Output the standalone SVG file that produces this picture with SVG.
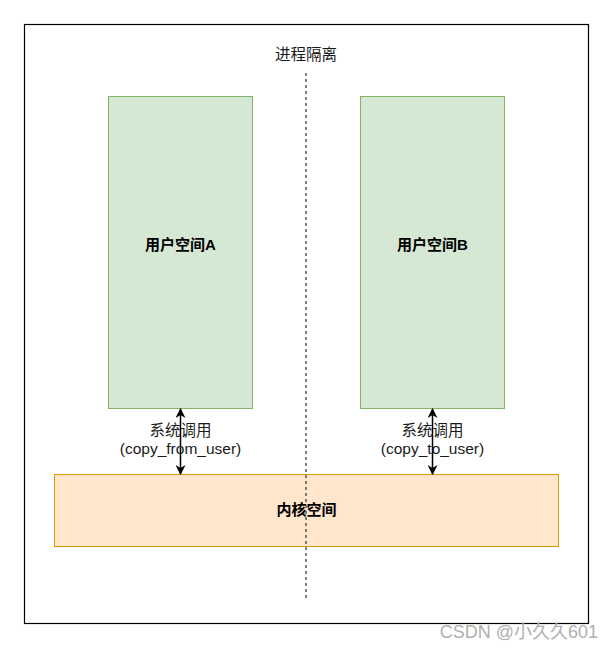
<svg xmlns="http://www.w3.org/2000/svg" width="614" height="650" viewBox="0 0 614 650">
<style>
.user{fill:#d5e8d4;stroke:#82b366;stroke-width:1}
.kern{fill:#ffe6cc;stroke:#d79b00;stroke-width:1}
.t{font-family:"Liberation Sans","Noto Sans CJK SC",sans-serif;font-size:15px;fill:#000;text-anchor:middle}
.b{font-weight:bold}
.lbl{font-family:"Liberation Sans","Noto Sans CJK SC",sans-serif;font-size:15.5px;fill:#1a1a1a;text-anchor:middle}
.edge{stroke:#000;stroke-width:1.5;fill:none}
</style>
<defs>
<marker id="ah" viewBox="0 0 10 10" refX="9" refY="5" markerWidth="10" markerHeight="10" orient="auto-start-reverse" markerUnits="userSpaceOnUse">
<path d="M0,0 L10,5 L0,10 L3,5 Z" fill="#000"/>
</marker>
</defs>
<rect width="614" height="650" fill="#fff"/>
<g id="frame"><rect x="24.5" y="24.5" width="564" height="599" fill="#fff" stroke="#000" stroke-width="1.2"/></g>
<g id="userA"><rect class="user" x="108.5" y="96.5" width="144" height="312"/><text class="t b" x="180.5" y="250">用户空间A</text></g>
<g id="userB"><rect class="user" x="360.5" y="96.5" width="144" height="312"/><text class="t b" x="432.5" y="250">用户空间B</text></g>
<g id="kernel"><rect class="kern" x="54.5" y="474.5" width="504" height="72"/><text class="t b" x="306.5" y="515">内核空间</text></g>
<g id="isolation"><text class="lbl" x="306" y="60">进程隔离</text></g>
<g id="connectors">
<line x1="306" y1="73" x2="306" y2="601" stroke="#555" stroke-width="1.5" stroke-dasharray="3,3"/>
<line class="edge" x1="180.5" y1="409" x2="180.5" y2="474" marker-start="url(#ah)" marker-end="url(#ah)"/>
<line class="edge" x1="432.5" y1="409" x2="432.5" y2="474" marker-start="url(#ah)" marker-end="url(#ah)"/>
<text class="lbl" x="180.5" y="436">系统调用</text>
<text class="lbl" x="180.5" y="454">(copy_from_user)</text>
<text class="lbl" x="432.5" y="436">系统调用</text>
<text class="lbl" x="432.5" y="454">(copy_to_user)</text>
</g>
<text x="598" y="638" font-family="'Liberation Sans','Noto Sans CJK SC',sans-serif" font-size="18" fill="#b0b0b0" text-anchor="end">CSDN @小久久601</text>
</svg>
